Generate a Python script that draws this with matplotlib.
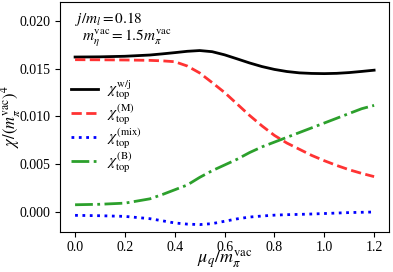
import numpy as np
import matplotlib.pyplot as plt

plt.rcParams['font.family'] = ['Liberation Serif', 'DejaVu Serif']
plt.rcParams['mathtext.fontset'] = 'stix'

# values
mu = [0.0, 0.1, 0.2, 0.3, 0.35, 0.4, 0.45, 0.5, 0.55, 0.6, 0.65, 0.7, 0.75, 0.8, 0.85, 0.9, 0.95, 1.0, 1.05, 1.1, 1.15, 1.2]
chi_wj = [0.01622, 0.01624, 0.01630, 0.01643, 0.01655, 0.01668, 0.01682, 0.01690, 0.01678, 0.01645, 0.01603, 0.01560, 0.01522, 0.01492, 0.01470, 0.01456, 0.01450, 0.01448, 0.01451, 0.01459, 0.01471, 0.01484]
chi_M = [0.01594, 0.01593, 0.01591, 0.01587, 0.01582, 0.01573, 0.01528, 0.01455, 0.01354, 0.01250, 0.01130, 0.01010, 0.00900, 0.00800, 0.00720, 0.00655, 0.00590, 0.00535, 0.00485, 0.00440, 0.00402, 0.00368]
chi_mix = [-0.00038, -0.00042, -0.00049, -0.00073, -0.00095, -0.00118, -0.00130, -0.00135, -0.00125, -0.00100, -0.00075, -0.00056, -0.00045, -0.00036, -0.00031, -0.00028, -0.00024, -0.00019, -0.00014, -0.00009, -0.00006, -0.00003]
chi_B = [0.00073, 0.00078, 0.00090, 0.00135, 0.00180, 0.00230, 0.00280, 0.00360, 0.00430, 0.00490, 0.00550, 0.00620, 0.00680, 0.00730, 0.00780, 0.00830, 0.00880, 0.00930, 0.00980, 0.01030, 0.01080, 0.01115]

fig, ax = plt.subplots(figsize=(3.93, 2.72), dpi=100)
ax.plot(mu, chi_wj, '-', color='black', lw=2, label=r'$\chi_{\rm top}^{\rm w/j}$')
ax.plot(mu, chi_M, '--', color='red', alpha=0.8, lw=2, label=r'$\chi_{\rm top}^{\rm (M)}$')
ax.plot(mu, chi_mix, ':', color='blue', lw=2, label=r'$\chi_{\rm top}^{\rm (mix)}$')
ax.plot(mu, chi_B, '-.', color='tab:green', lw=2, label=r'$\chi_{\rm top}^{\rm (B)}$')

ax.set_ylim(-0.0021, 0.022)
ax.set_xticks([0.0, 0.2, 0.4, 0.6, 0.8, 1.0, 1.2])
ax.set_yticks([0.000, 0.005, 0.010, 0.015, 0.020])
ax.tick_params(labelsize=10)
ax.set_xlabel(r'$\mu_q/m_\pi^{\rm vac}$', fontsize=13)
ax.xaxis.set_label_coords(0.5, -0.075)
ax.set_ylabel(r'$\chi/(m_\pi^{\rm vac})^4$', fontsize=12)
ax.yaxis.set_label_coords(-0.112, 0.5)

ax.text(0.045, 0.965, r'$j/m_l = 0.18$', transform=ax.transAxes, fontsize=11, va='top')
ax.text(0.065, 0.885, r'$m_\eta^{\rm vac} = 1.5 m_\pi^{\rm vac}$', transform=ax.transAxes, fontsize=11, va='top')

ax.legend(loc='upper left', bbox_to_anchor=(0.0, 0.71), frameon=False, fontsize=11,
          labelspacing=0.0, handlelength=1.8, handletextpad=0.6, borderaxespad=0.3)

plt.subplots_adjust(left=0.153, right=0.99, top=0.993, bottom=0.148)
plt.savefig('out.png', dpi=100)
